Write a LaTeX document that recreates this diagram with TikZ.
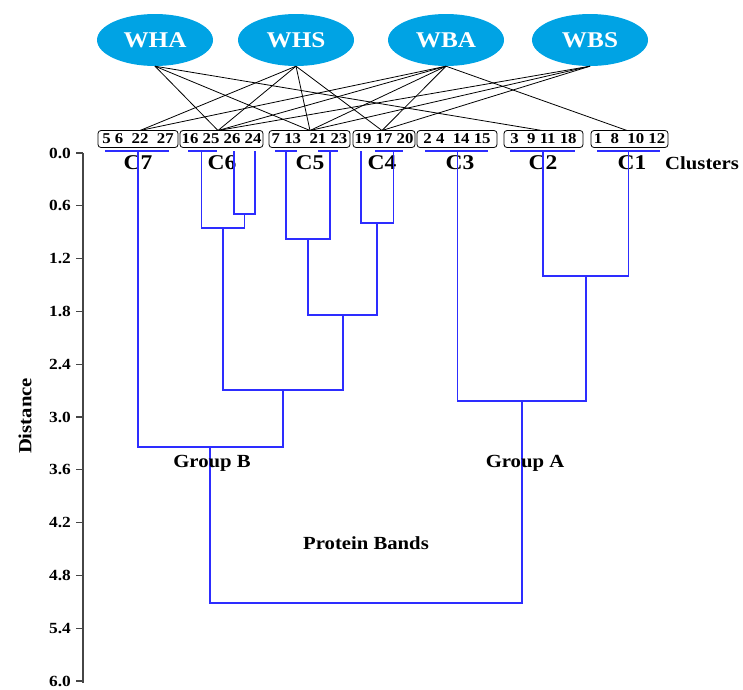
\documentclass[tikz,border=0pt]{standalone}
\usepackage{fontspec}
\setmainfont{Liberation Serif}[FakeStretch=1.12]
\usetikzlibrary{shapes.geometric}
\definecolor{ellblue}{RGB}{0,163,228}
\definecolor{dendblue}{RGB}{45,45,255}
\definecolor{axisgray}{RGB}{70,70,70}
\tikzset{
  ell/.style={ellipse, fill=ellblue, minimum width=116pt, minimum height=52pt, inner sep=0pt, text=white, font=\fontsize{22.5}{22.5}\selectfont\bfseries},
  clbox/.style={draw=black, line width=0.8pt, rounded corners=3pt, minimum height=17pt, inner sep=0pt, font=\fontsize{15}{15}\selectfont\bfseries},
  cllabel/.style={font=\fontsize{21}{21}\selectfont\bfseries, inner sep=0pt},
  txtlabel/.style={font=\fontsize{18.5}{18.5}\selectfont\bfseries, inner sep=0pt},
  ticklabel/.style={font=\fontsize{15.5}{15.5}\selectfont\bfseries, anchor=east, inner sep=0pt},
  link/.style={black, line width=0.8pt},
  dend/.style={dendblue, line width=1.4pt},
  uline/.style={dendblue, line width=1.2pt}
}
\begin{document}
\begin{tikzpicture}[x=1pt,y=-1pt]
\useasboundingbox (0,0) rectangle (743,689);

% ellipses
\node[ell] (wha) at (155,40) {WHA};
\node[ell] (whs) at (296,40) {WHS};
\node[ell] (wba) at (446,40) {WBA};
\node[ell] (wbs) at (590,40) {WBS};

% cluster boxes
\node[clbox, minimum width=80pt] (b7) at (138,139) {5 6~~22~~27};
\node[clbox, minimum width=83pt] (b6) at (221.5,139) {16 25 26 24};
\node[clbox, minimum width=81pt] (b5) at (309.5,139) {7 13~~21 23};
\node[clbox, minimum width=62pt] (b4) at (384,139) {19 17 20};
\node[clbox, minimum width=80pt] (b3) at (457,139) {2 4~~14 15};
\node[clbox, minimum width=79pt] (b2) at (543.5,139) {3~~9 11 18};
\node[clbox, minimum width=77pt] (b1) at (629.5,139) {1~~8~~10 12};

% connector ends on box tops
\coordinate (t7) at (140,130.5);
\coordinate (t6) at (218,130.5);
\coordinate (t5) at (310,130.5);
\coordinate (t4) at (382,130.5);
\coordinate (t2) at (542,130.5);
\coordinate (t1) at (627,130.5);

% connectors
\draw[link] (wha.south) -- (t6);
\draw[link] (wha.south) -- (t5);
\draw[link] (wha.south) -- (t2);
\draw[link] (whs.south) -- (t7);
\draw[link] (whs.south) -- (t6);
\draw[link] (whs.south) -- (t5);
\draw[link] (whs.south) -- (t4);
\draw[link] (wba.south) -- (t7);
\draw[link] (wba.south) -- (t6);
\draw[link] (wba.south) -- (t5);
\draw[link] (wba.south) -- (t4);
\draw[link] (wba.south) -- (t1);
\draw[link] (wbs.south) -- (t6);
\draw[link] (wbs.south) -- (t5);
\draw[link] (wbs.south) -- (t4);

% cluster labels
\node[cllabel] (c7) at (138,163) {C7};
\node[cllabel] (c6) at (222,163) {C6};
\node[cllabel] (c5) at (310,163) {C5};
\node[cllabel] (c4) at (382,163) {C4};
\node[cllabel] (c3) at (460,163) {C3};
\node[cllabel] (c2) at (543,163) {C2};
\node[cllabel] (c1) at (632,163) {C1};
\node[txtlabel, anchor=west] (clusters) at (665,163) {Clusters};

% underlines
\draw[uline] (105,151) -- (169,151);
\draw[uline] (188,151) -- (217,151);
\draw[uline] (275,151) -- (297,151);
\draw[uline] (318,151) -- (338,151);
\draw[uline] (375,151) -- (403,151);
\draw[uline] (425,151) -- (488,151);
\draw[uline] (510,151) -- (575,151);
\draw[uline] (597,151) -- (660,151);

% dendrogram, group B
\draw[dend] (234,151) -- (234,214) -- (255,214) -- (255,151);
\draw[dend] (201.5,151) -- (201.5,228) -- (244.5,228) -- (244.5,214);
\draw[dend] (286,151) -- (286,239) -- (330,239) -- (330,151);
\draw[dend] (361,151) -- (361,223) -- (393.5,223) -- (393.5,151);
\draw[dend] (308,239) -- (308,315) -- (377,315) -- (377,223);
\draw[dend] (223,228) -- (223,390) -- (343,390) -- (343,315);
\draw[dend] (138,151) -- (138,447) -- (283,447) -- (283,390);
% group A
\draw[dend] (543,151) -- (543,276) -- (628.5,276) -- (628.5,151);
\draw[dend] (457.5,151) -- (457.5,401) -- (586,401) -- (586,276);
% root
\draw[dend] (210,447) -- (210,603) -- (522,603) -- (522,401);

% axis
\draw[axisgray, line width=1.4pt] (83,153) -- (83,683);
\foreach \v [count=\i from 0] in {0.0,0.6,1.2,1.8,2.4,3.0,3.6,4.2,4.8,5.4,6.0} {
  \draw[axisgray, line width=1.2pt] (76,153+52.8*\i) -- (83,153+52.8*\i);
  \node[ticklabel] (tk\i) at (71,153+52.8*\i) {\v};
}
\node[txtlabel, rotate=90] (dist) at (25,416) {Distance};

% group labels
\node[txtlabel] (gb) at (212,463) {Group B};
\node[txtlabel] (ga) at (525,463) {Group A};
\node[txtlabel] (pb) at (366,543) {Protein Bands};
\end{tikzpicture}
\end{document}
